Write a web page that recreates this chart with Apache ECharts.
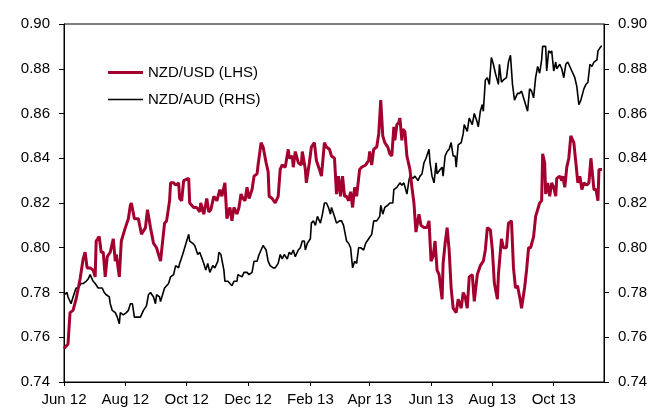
<!DOCTYPE html>
<html>
<head>
<meta charset="utf-8">
<script src="https://cdn.jsdelivr.net/npm/echarts@6/dist/echarts.min.js"></script>
<style>
  html, body { margin: 0; padding: 0; background: #fff; }
  #chart { width: 652px; height: 408px; }
</style>
</head>
<body>
<div id="chart"></div>
<script>
// x values are days counted from 1 Jun 2012
var tickLabels = ['Jun 12', 'Aug 12', 'Oct 12', 'Dec 12', 'Feb 13', 'Apr 13', 'Jun 13', 'Aug 13', 'Oct 13'];
var tickDays = [0, 61, 122, 183, 245, 304, 365, 426, 487];

// NZD/USD (LHS)
var usdDays = [0, 4, 6, 9, 12, 16, 19, 21, 23, 26, 29, 31, 32, 35, 37, 39, 41, 43, 46, 47,
  49, 51, 52, 55, 57, 61, 64, 66, 67, 70, 74, 77, 81, 83, 86, 89, 92, 96, 97, 100,
  102, 105, 106, 109, 111, 114, 115, 117, 119, 124, 125, 129, 132, 135, 136, 139, 142, 144, 146, 149,
  152, 155, 157, 160, 162, 165, 167, 169, 172, 174, 176, 178, 180, 182, 184, 187, 189, 192, 193, 196,
  198, 201, 203, 204, 207, 210, 213, 215, 217, 220, 223, 224, 227, 228, 230, 233, 236, 237, 240, 241,
  244, 246, 249, 251, 254, 256, 259, 261, 264, 266, 269, 271, 273, 275, 277, 279, 281, 283, 285, 287,
  289, 291, 294, 296, 300, 303, 304, 306, 308, 311, 313, 315, 317, 319, 322, 324, 326, 328, 329, 331,
  333, 334, 336, 337, 339, 341, 344, 346, 348, 350, 353, 355, 358, 361, 363, 365, 367, 369, 371, 373,
  376, 377, 379, 381, 383, 385, 387, 390, 392, 395, 397, 399, 401, 403, 406, 408, 411, 414, 417, 419,
  421, 424, 426, 428, 431, 432, 435, 437, 440, 442, 445, 447, 449, 451, 454, 455, 458, 460, 462, 464,
  467, 469, 471, 473, 475, 476, 478, 479, 481, 483, 485, 487, 489, 490, 493, 495, 496, 498, 500, 502,
  504, 507, 509, 511, 513, 515, 517, 520, 522, 524, 527, 529, 531, 532, 535];
var usdRate = [0.755, 0.757, 0.771, 0.772, 0.777, 0.786, 0.795, 0.798, 0.791, 0.791, 0.790, 0.787, 0.803, 0.805, 0.798, 0.798, 0.787, 0.796, 0.798, 0.800,
  0.804, 0.794, 0.797, 0.787, 0.803, 0.809, 0.813, 0.819, 0.820, 0.813, 0.813, 0.806, 0.809, 0.817, 0.809, 0.802, 0.800, 0.794, 0.794, 0.811,
  0.812, 0.821, 0.829, 0.829, 0.828, 0.829, 0.822, 0.821, 0.830, 0.831, 0.820, 0.818, 0.818, 0.816, 0.820, 0.815, 0.822, 0.816, 0.817, 0.823,
  0.821, 0.826, 0.823, 0.829, 0.813, 0.818, 0.812, 0.818, 0.815, 0.818, 0.824, 0.822, 0.821, 0.827, 0.822, 0.826, 0.832, 0.833, 0.837, 0.847,
  0.845, 0.838, 0.834, 0.823, 0.822, 0.820, 0.823, 0.835, 0.837, 0.836, 0.844, 0.840, 0.841, 0.836, 0.843, 0.838, 0.837, 0.843, 0.835, 0.829,
  0.838, 0.845, 0.847, 0.839, 0.835, 0.832, 0.847, 0.845, 0.844, 0.841, 0.840, 0.824, 0.832, 0.823, 0.832, 0.823, 0.823, 0.821, 0.825, 0.818,
  0.827, 0.823, 0.835, 0.836, 0.837, 0.839, 0.843, 0.837, 0.844, 0.845, 0.851, 0.866, 0.850, 0.847, 0.845, 0.842, 0.841, 0.854, 0.848, 0.855,
  0.856, 0.858, 0.848, 0.853, 0.852, 0.841, 0.835, 0.827, 0.820, 0.807, 0.815, 0.810, 0.809, 0.809, 0.812, 0.794, 0.796, 0.803, 0.790, 0.788,
  0.777, 0.793, 0.802, 0.809, 0.799, 0.782, 0.773, 0.771, 0.777, 0.773, 0.780, 0.778, 0.773, 0.787, 0.788, 0.776, 0.788, 0.792, 0.794, 0.799,
  0.809, 0.808, 0.799, 0.784, 0.777, 0.788, 0.804, 0.800, 0.800, 0.811, 0.812, 0.791, 0.782, 0.783, 0.776, 0.773, 0.782, 0.790, 0.800, 0.800,
  0.805, 0.814, 0.817, 0.820, 0.821, 0.842, 0.838, 0.824, 0.829, 0.823, 0.829, 0.827, 0.823, 0.831, 0.832, 0.830, 0.832, 0.827, 0.836, 0.840,
  0.850, 0.847, 0.838, 0.829, 0.832, 0.826, 0.829, 0.828, 0.829, 0.840, 0.826, 0.826, 0.821, 0.835, 0.835];

// NZD/AUD (RHS)
var audDays = [0, 3, 4, 7, 9, 12, 14, 17, 19, 22, 24, 26, 29, 31, 34, 38, 40, 42, 45, 46,
  48, 51, 53, 55, 56, 59, 62, 64, 66, 68, 70, 73, 76, 79, 82, 84, 86, 89, 91, 92,
  95, 96, 98, 100, 104, 106, 109, 111, 114, 115, 118, 120, 124, 125, 128, 130, 133, 135, 139, 141,
  143, 145, 148, 150, 153, 154, 156, 159, 160, 163, 167, 169, 172, 173, 177, 179, 182, 184, 187, 189,
  192, 194, 197, 198, 201, 203, 205, 208, 210, 213, 215, 217, 219, 222, 224, 226, 228, 230, 233, 235,
  237, 239, 240, 242, 245, 246, 248, 250, 252, 255, 257, 259, 261, 263, 265, 266, 269, 271, 274, 276,
  278, 281, 283, 285, 287, 289, 291, 293, 295, 298, 300, 303, 306, 308, 311, 314, 315, 317, 319, 322,
  324, 327, 328, 331, 334, 336, 338, 341, 343, 344, 347, 349, 352, 354, 356, 358, 360, 363, 364, 366,
  368, 370, 371, 374, 376, 377, 379, 381, 383, 385, 387, 389, 390, 392, 395, 397, 398, 401, 403, 406,
  408, 411, 412, 414, 416, 417, 419, 421, 423, 425, 427, 429, 432, 433, 435, 437, 440, 442, 444, 446,
  448, 451, 453, 455, 457, 459, 461, 463, 465, 467, 469, 471, 473, 475, 476, 479, 480, 482, 484, 485,
  487, 489, 490, 493, 495, 497, 499, 501, 503, 505, 508, 510, 512, 514, 517, 519, 521, 523, 525, 527,
  530, 531, 534, 535];
var audRate = [0.779, 0.780, 0.778, 0.775, 0.778, 0.782, 0.782, 0.784, 0.784, 0.785, 0.786, 0.788, 0.785, 0.784, 0.782, 0.782, 0.780, 0.779, 0.778, 0.775,
  0.772, 0.771, 0.769, 0.766, 0.771, 0.770, 0.771, 0.772, 0.775, 0.775, 0.769, 0.769, 0.769, 0.772, 0.774, 0.779, 0.780, 0.778, 0.775, 0.779,
  0.778, 0.776, 0.779, 0.782, 0.784, 0.787, 0.788, 0.792, 0.791, 0.793, 0.797, 0.800, 0.806, 0.803, 0.802, 0.801, 0.797, 0.798, 0.793, 0.790,
  0.793, 0.789, 0.792, 0.791, 0.794, 0.798, 0.797, 0.790, 0.785, 0.785, 0.783, 0.785, 0.785, 0.788, 0.787, 0.789, 0.789, 0.788, 0.789, 0.794,
  0.794, 0.797, 0.800, 0.801, 0.799, 0.794, 0.792, 0.791, 0.791, 0.793, 0.797, 0.795, 0.797, 0.795, 0.798, 0.797, 0.799, 0.796, 0.799, 0.800,
  0.803, 0.803, 0.799, 0.802, 0.804, 0.811, 0.812, 0.810, 0.814, 0.811, 0.815, 0.820, 0.820, 0.818, 0.815, 0.818, 0.814, 0.811, 0.812, 0.812,
  0.810, 0.803, 0.802, 0.800, 0.791, 0.794, 0.793, 0.800, 0.800, 0.799, 0.802, 0.804, 0.806, 0.812, 0.812, 0.814, 0.819, 0.815, 0.818, 0.819,
  0.820, 0.820, 0.826, 0.827, 0.829, 0.828, 0.829, 0.824, 0.830, 0.832, 0.831, 0.832, 0.830, 0.832, 0.833, 0.838, 0.840, 0.844, 0.838, 0.832,
  0.829, 0.838, 0.833, 0.835, 0.836, 0.832, 0.841, 0.843, 0.844, 0.847, 0.841, 0.841, 0.836, 0.846, 0.847, 0.851, 0.855, 0.852, 0.858, 0.855,
  0.860, 0.856, 0.854, 0.861, 0.864, 0.861, 0.875, 0.876, 0.873, 0.885, 0.882, 0.878, 0.873, 0.882, 0.874, 0.875, 0.876, 0.883, 0.886, 0.873,
  0.866, 0.869, 0.869, 0.870, 0.867, 0.864, 0.861, 0.871, 0.870, 0.867, 0.876, 0.881, 0.878, 0.884, 0.890, 0.890, 0.879, 0.888, 0.887, 0.888,
  0.879, 0.883, 0.880, 0.882, 0.880, 0.876, 0.882, 0.883, 0.881, 0.879, 0.876, 0.872, 0.864, 0.866, 0.871, 0.873, 0.874, 0.882, 0.881, 0.883,
  0.884, 0.888, 0.890, 0.890];

var font = '"Liberation Sans", Arial, sans-serif';
var usdColor = '#A3002F';

var zip = function(xs, ys) {
    var out = [];
    for (var i = 0; i < xs.length; i++) {
        out.push([xs[i], ys[i]]);
    }
    return out;
};

var rateAxis = function(side) {
    return {
        type: 'value',
        position: side,
        min: 0.74,
        max: 0.90,
        interval: 0.02,
        axisLine: { show: true, lineStyle: { color: '#000', width: 1 } },
        axisTick: { show: true, inside: false, length: 5, lineStyle: { color: '#000' } },
        axisLabel: {
            color: '#000', fontFamily: font, fontSize: 15, margin: 14,
            formatter: function(v) { return v.toFixed(2); }
        },
        splitLine: { show: false }
    };
};

var chart = echarts.init(document.getElementById('chart'));
chart.setOption({
    animation: false,
    backgroundColor: '#fff',
    grid: {
        left: 64, right: 48, top: 24, bottom: 26,
        show: true, borderColor: '#000', borderWidth: 1
    },
    legend: {
        orient: 'vertical',
        left: 103,
        top: 60,
        itemWidth: 35,
        itemHeight: 12,
        itemGap: 12,
        symbolKeepAspect: true,
        textStyle: { color: '#000', fontFamily: font, fontSize: 15 },
        data: [
            { name: 'NZD/USD (LHS)', icon: 'path://M0,0H35V3H0Z' },
            { name: 'NZD/AUD (RHS)', icon: 'path://M0,0H35V1.6H0Z' }
        ]
    },
    xAxis: {
        type: 'value',
        min: 0,
        max: 537,
        axisLine: { show: true, lineStyle: { color: '#000' } },
        axisTick: { show: true, length: 4, customValues: tickDays, lineStyle: { color: '#000' } },
        axisLabel: {
            customValues: tickDays,
            color: '#000', fontFamily: font, fontSize: 15, margin: 10,
            formatter: function(v) {
                var i = tickDays.indexOf(v);
                return i >= 0 ? tickLabels[i] : '';
            }
        },
        splitLine: { show: false }
    },
    yAxis: [rateAxis('left'), rateAxis('right')],
    series: [
        {
            name: 'NZD/USD (LHS)',
            type: 'line',
            yAxisIndex: 0,
            symbol: 'none',
            data: zip(usdDays, usdRate),
            lineStyle: { color: usdColor, width: 3 },
            itemStyle: { color: usdColor },
            z: 3
        },
        {
            name: 'NZD/AUD (RHS)',
            type: 'line',
            yAxisIndex: 1,
            symbol: 'none',
            data: zip(audDays, audRate),
            lineStyle: { color: '#000', width: 1.6 },
            itemStyle: { color: '#000' },
            z: 2
        }
    ]
});
</script>
</body>
</html>
